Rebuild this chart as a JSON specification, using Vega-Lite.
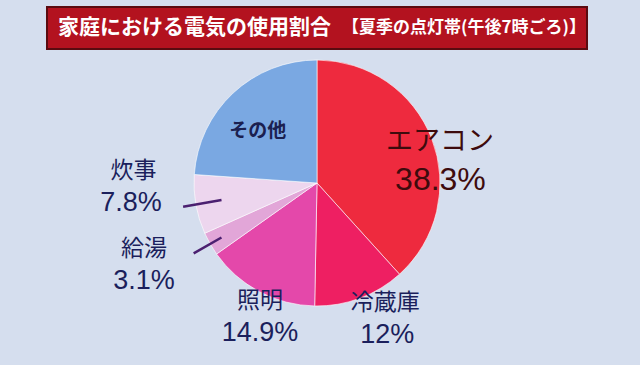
{
  "$schema": "https://vega.github.io/schema/vega-lite/v6.json",
  "background": "#D5DEEE",
  "padding": {"top": 6, "left": 0, "right": 6, "bottom": 12},
  "bounds": "flush",
  "config": {"view": {"stroke": null}, "font": "Noto Sans CJK JP"},
  "datasets": {
    "share": [
      {"k": "エアコン", "v": 38.3, "o": 1, "pct": "38.3%"},
      {"k": "冷蔵庫", "v": 12, "o": 2, "pct": "12%"},
      {"k": "照明", "v": 14.9, "o": 3, "pct": "14.9%"},
      {"k": "給湯", "v": 3.1, "o": 4, "pct": "3.1%"},
      {"k": "炊事", "v": 7.8, "o": 5, "pct": "7.8%"},
      {"k": "その他", "v": 23.9, "o": 6, "pct": "23.9%"}
    ],
    "title": [
      {"part": "main", "t": "家庭における電気の使用割合"},
      {"part": "sub", "t": "【夏季の点灯帯(午後7時ごろ)】"}
    ]
  },
  "spacing": 2,
  "center": true,
  "vconcat": [
    {
      "width": 540,
      "height": 42,
      "view": {"fill": "#B3121F", "stroke": "#5A0B10", "strokeWidth": 2},
      "data": {"name": "title"},
      "layer": [
        {
          "transform": [{"filter": "datum.part === 'main'"}],
          "mark": {"type": "text", "align": "right", "baseline": "middle", "dx": 14, "fontSize": 21, "fontWeight": "bold", "color": "#FFFFFF"},
          "encoding": {"text": {"field": "t", "type": "nominal"}}
        },
        {
          "transform": [{"filter": "datum.part === 'sub'"}],
          "mark": {"type": "text", "align": "left", "baseline": "middle", "dx": 25, "fontSize": 17, "fontWeight": "bold", "color": "#FFFFFF"},
          "encoding": {"text": {"field": "t", "type": "nominal"}}
        }
      ]
    },
    {
      "width": 634,
      "height": 264,
      "data": {"name": "share"},
      "encoding": {
        "theta": {"field": "v", "type": "quantitative", "stack": true},
        "order": {"field": "o", "type": "quantitative"},
        "detail": {"field": "k", "type": "nominal"}
      },
      "layer": [
        {
          "mark": {"type": "arc", "outerRadius": 123, "stroke": "#FFFFFF", "strokeWidth": 1, "strokeOpacity": 0.6},
          "encoding": {
            "color": {
              "field": "k", "type": "nominal", "legend": null,
              "scale": {
                "domain": ["エアコン", "冷蔵庫", "照明", "給湯", "炊事", "その他"],
                "range": ["#EE2A3E", "#EE1F62", "#E448AA", "#E2A6D8", "#EDD6EE", "#7AA8E2"]
              }
            }
          }
        },
        {
          "mark": {"type": "arc", "outerRadius": 136, "innerRadius": 97, "padAngle": 2, "stroke": "#4B2070", "strokeWidth": 2.5, "fillOpacity": 0},
          "encoding": {"strokeOpacity": {"condition": {"test": "datum.k === '炊事'", "value": 1}, "value": 0}}
        },
        {
          "mark": {"type": "arc", "outerRadius": 142, "innerRadius": 110, "padAngle": 2, "stroke": "#4B2070", "strokeWidth": 2.5, "fillOpacity": 0},
          "encoding": {"strokeOpacity": {"condition": {"test": "datum.k === '給湯'", "value": 1}, "value": 0}}
        },
        {
          "mark": {"type": "text", "radius": 123.5, "dx": 7.7, "dy": 3.6, "fontSize": 27, "align": "center", "baseline": "middle", "fill": "#3E0B0D"},
          "encoding": {"text": {"condition": {"test": "datum.k === 'エアコン'", "field": "k"}, "value": ""}}
        },
        {
          "mark": {"type": "text", "radius": 123.5, "dx": 8.2, "dy": 41.2, "font": "Liberation Sans", "fontSize": 32, "align": "center", "baseline": "middle", "fill": "#3E0B0D"},
          "encoding": {"text": {"condition": {"test": "datum.k === 'エアコン'", "field": "pct"}, "value": ""}}
        },
        {
          "mark": {"type": "text", "radius": 154, "dx": 14.2, "dy": -24.2, "fontSize": 23, "align": "center", "baseline": "middle", "fill": "#1B1F5C"},
          "encoding": {"text": {"condition": {"test": "datum.k === '冷蔵庫'", "field": "k"}, "value": ""}}
        },
        {
          "mark": {"type": "text", "radius": 154, "dx": 16.2, "dy": 7.8, "font": "Liberation Sans", "fontSize": 27, "align": "center", "baseline": "middle", "fill": "#1B1F5C"},
          "encoding": {"text": {"condition": {"test": "datum.k === '冷蔵庫'", "field": "pct"}, "value": ""}}
        },
        {
          "mark": {"type": "text", "radius": 143.5, "dx": 10.1, "dy": -8.8, "fontSize": 23, "align": "center", "baseline": "middle", "fill": "#1B1F5C"},
          "encoding": {"text": {"condition": {"test": "datum.k === '照明'", "field": "k"}, "value": ""}}
        },
        {
          "mark": {"type": "text", "radius": 143.5, "dx": 10.1, "dy": 23.2, "font": "Liberation Sans", "fontSize": 27, "align": "center", "baseline": "middle", "fill": "#1B1F5C"},
          "encoding": {"text": {"condition": {"test": "datum.k === '照明'", "field": "pct"}, "value": ""}}
        },
        {
          "mark": {"type": "text", "radius": 160, "dx": -34, "dy": -13.3, "fontSize": 23, "align": "center", "baseline": "middle", "fill": "#1B1F5C"},
          "encoding": {"text": {"condition": {"test": "datum.k === '給湯'", "field": "k"}, "value": ""}}
        },
        {
          "mark": {"type": "text", "radius": 160, "dx": -34, "dy": 18.7, "font": "Liberation Sans", "fontSize": 27, "align": "center", "baseline": "middle", "fill": "#1B1F5C"},
          "encoding": {"text": {"condition": {"test": "datum.k === '給湯'", "field": "pct"}, "value": ""}}
        },
        {
          "mark": {"type": "text", "radius": 150, "dx": -35.8, "dy": -38.5, "fontSize": 23, "align": "center", "baseline": "middle", "fill": "#1B1F5C"},
          "encoding": {"text": {"condition": {"test": "datum.k === '炊事'", "field": "k"}, "value": ""}}
        },
        {
          "mark": {"type": "text", "radius": 150, "dx": -38.3, "dy": -6.5, "font": "Liberation Sans", "fontSize": 27, "align": "center", "baseline": "middle", "fill": "#1B1F5C"},
          "encoding": {"text": {"condition": {"test": "datum.k === '炊事'", "field": "pct"}, "value": ""}}
        },
        {
          "mark": {"type": "text", "radius": 78, "dx": -6, "dy": 5, "fontSize": 19, "fontWeight": "bold", "align": "center", "baseline": "middle", "fill": "#1B2050"},
          "encoding": {"text": {"condition": {"test": "datum.k === 'その他'", "field": "k"}, "value": ""}}
        }
      ]
    }
  ]
}
